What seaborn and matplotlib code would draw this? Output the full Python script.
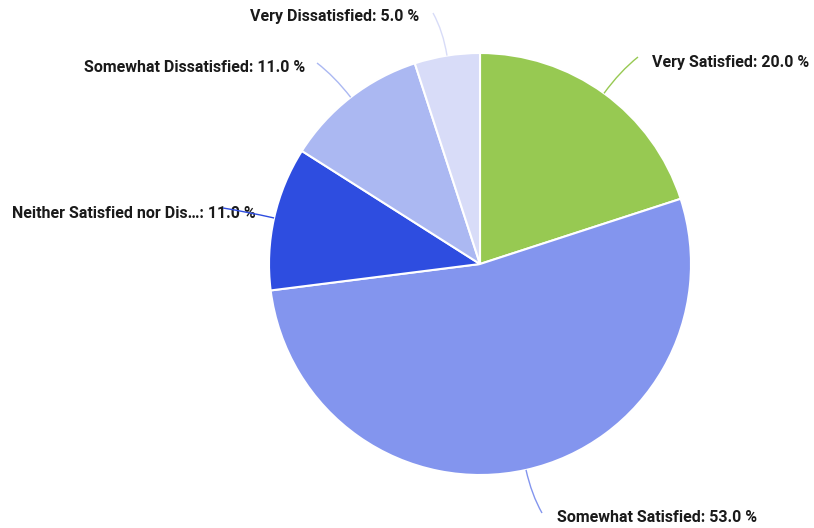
import numpy as np
import matplotlib
matplotlib.use("Agg")
import matplotlib.pyplot as plt
from matplotlib.path import Path
from matplotlib.patches import PathPatch
import seaborn as sns

# Survey responses
categories = ["Very Satisfied", "Somewhat Satisfied", "Neither Satisfied nor Dis\u2026",
              "Somewhat Dissatisfied", "Very Dissatisfied"]
shares = [20.0, 53.0, 11.0, 11.0, 5.0]
colors = ["#97C952", "#8395EE", "#2E4DE0", "#ABB8F2", "#D8DCF8"]

sns.set_theme(style="white")
plt.rcParams["font.family"] = ["Roboto", "DejaVu Sans"]

W, H = 814, 528
fig = plt.figure(figsize=(W / 100, H / 100), dpi=100)
ax = fig.add_axes([0, 0, 1, 1])

cx, cy, r = 480, H - 264, 211
wedges, _ = ax.pie(shares, colors=colors, startangle=90, counterclock=False,
                   center=(cx, cy), radius=r,
                   wedgeprops=dict(edgecolor="white", linewidth=1.5))

# leader-line end points and text anchors (pixels from top-left)
line_ends = [(638, 57), (542, 513), (223, 208), (317, 63), (433, 13)]
text_pos = [(652, 62, "left"), (557, 518, "left"), (256, 214, "right"),
            (305, 68, "right"), (419, 17, "right")]

for w, cat, val, col, (lx, ly), (tx, ty, side) in zip(
        wedges, categories, shares, colors, line_ends, text_pos):
    mid = np.deg2rad((w.theta1 + w.theta2) / 2)
    sx, sy = cx + r * np.cos(mid), cy + r * np.sin(mid)
    ex, ey = lx, H - ly
    reach = r + 0.55 * np.hypot(ex - sx, ey - sy)
    ctrl = (cx + reach * np.cos(mid), cy + reach * np.sin(mid))
    path = Path([(sx, sy), ctrl, (ex, ey)], [Path.MOVETO, Path.CURVE3, Path.CURVE3])
    ax.add_patch(PathPatch(path, fill=False, edgecolor=col, linewidth=1.0, zorder=3))
    ax.text(tx, H - ty, f"{cat}: {val:.1f} %", ha=side, va="center",
            fontsize=11.55, fontweight="bold", color="#1a1a1a", zorder=2)

ax.set_xlim(0, W)
ax.set_ylim(0, H)
ax.set_aspect("equal")
ax.axis("off")
fig.savefig("out.png", dpi=100, facecolor="white")
